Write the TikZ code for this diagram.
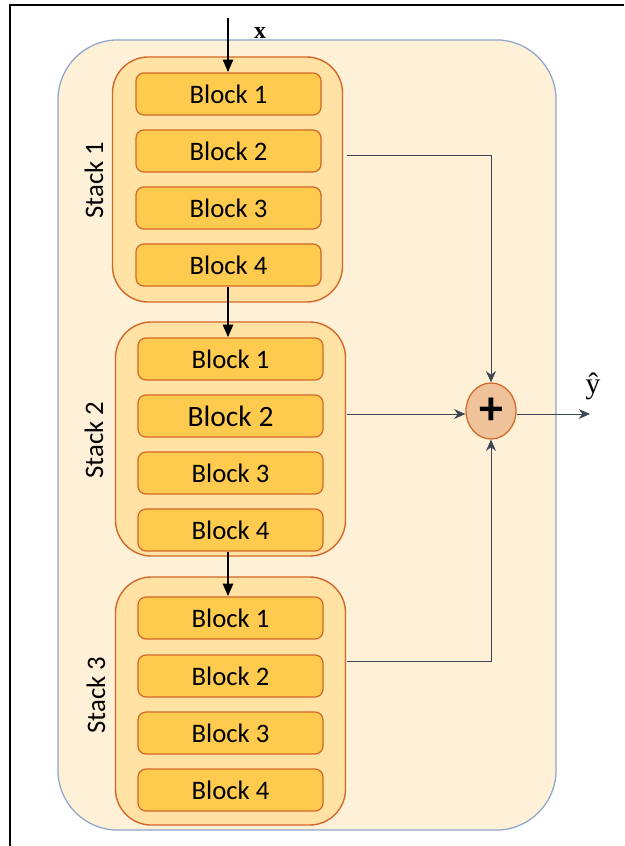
\documentclass[tikz,border=0pt]{standalone}
\usepackage{fontspec}
\setmainfont{Carlito}
\newfontfamily\labelfont{Liberation Serif}
\usetikzlibrary{arrows.meta,shapes.geometric}

\definecolor{outerfill}{HTML}{FEF1D8}
\definecolor{outerline}{HTML}{8FA5C9}
\definecolor{stackfill}{HTML}{FFE2A4}
\definecolor{blockfill}{HTML}{FFCB4F}
\definecolor{orangeline}{HTML}{D2692B}
\definecolor{plusfill}{HTML}{EFC29A}
\definecolor{linkgray}{HTML}{3E4653}

\tikzset{
    outerbox/.style={draw=outerline, fill=outerfill, line width=0.9pt,
        rounded corners=1.5cm, minimum width=12.45cm, minimum height=19.75cm},
    stackbox/.style={draw=orangeline, fill=stackfill, line width=1pt,
        rounded corners=0.9cm, minimum width=5.75cm},
    blockbox/.style={draw=orangeline, fill=blockfill, line width=0.9pt,
        rounded corners=0.2cm, minimum width=4.625cm, minimum height=1.05cm,
        font=\fontsize{19}{22}\selectfont},
    stacklabel/.style={rotate=90, font=\fontsize{19}{22}\selectfont},
    flow/.style={-{Triangle[length=9pt,width=7pt]}, line width=2pt, black},
    link/.style={-{Stealth[length=8pt,width=7pt]}, line width=0.5pt, linkgray}
}

\begin{document}
\begin{tikzpicture}[x=0.025cm, y=-0.025cm]
    \useasboundingbox (0,0) rectangle (624,846);

    % frame
    \draw[line width=2pt] (10,846) -- (10,5) -- (624,5);

    % model box
    \node[outerbox] (model) at (307,435) {};

    % stacks
    \node[stackbox, minimum height=6.125cm] (stack1) at (227.5,179.5) {};
    \node[stackbox, minimum height=5.85cm] (stack2) at (230.5,439) {};
    \node[stackbox, minimum height=6.2cm] (stack3) at (230.5,701) {};

    \node[stacklabel] (label1) at (94,180) {Stack 1};
    \node[stacklabel] (label2) at (94,440) {Stack 2};
    \node[stacklabel] (label3) at (96,695) {Stack 3};

    % blocks
    \foreach \i in {1,...,4}
        \node[blockbox] (s1b\i) at (228.5,{94+57*(\i-1)}) {Block \i};
    \node[blockbox] (s2b1) at (230.5,359) {Block 1};
    \node[blockbox, font=\fontsize{21}{22}\selectfont] (s2b2) at (230.5,416) {Block 2};
    \node[blockbox] (s2b3) at (230.5,473) {Block 3};
    \node[blockbox] (s2b4) at (230.5,530) {Block 4};
    \node[blockbox] (s3b1) at (230.5,618) {Block 1};
    \node[blockbox] (s3b2) at (230.5,676) {Block 2};
    \node[blockbox] (s3b3) at (230.5,733) {Block 3};
    \node[blockbox] (s3b4) at (230.5,790) {Block 4};

    % sum
    \node[ellipse, draw=orangeline, fill=plusfill, line width=0.9pt,
        minimum width=1.25cm, minimum height=1.4cm, inner sep=0pt,
        font=\fontsize{34}{34}\selectfont\bfseries] (plus) at (491,411) {+};

    % input and output
    \coordinate (xin) at (228,18);
    \node[font=\labelfont\fontsize{17}{17}\selectfont\bfseries] (xlabel) at (260,33) {x};
    \coordinate (yout) at (590,414);
    \node[font=\labelfont\fontsize{21}{21}\selectfont] (ylabel) at (593,386) {ŷ};
    \coordinate (s1out) at (347,155);
    \coordinate (s2out) at (347,414);
    \coordinate (s3out) at (347,661);

    \draw[flow] (xin) -- (s1b1.north -| xin);
    \draw[flow] (s1b4.south -| xin) -- (s2b1.north -| xin);
    \draw[flow] (s2b4.south -| xin) -- (s3b1.north -| xin);

    \draw[link] (s1out) -| (plus.north);
    \draw[link] (s2out) -- (plus.west |- s2out);
    \draw[link] (s3out) -| (plus.south);
    \draw[link] (plus.east |- yout) -- (yout);
\end{tikzpicture}
\end{document}
